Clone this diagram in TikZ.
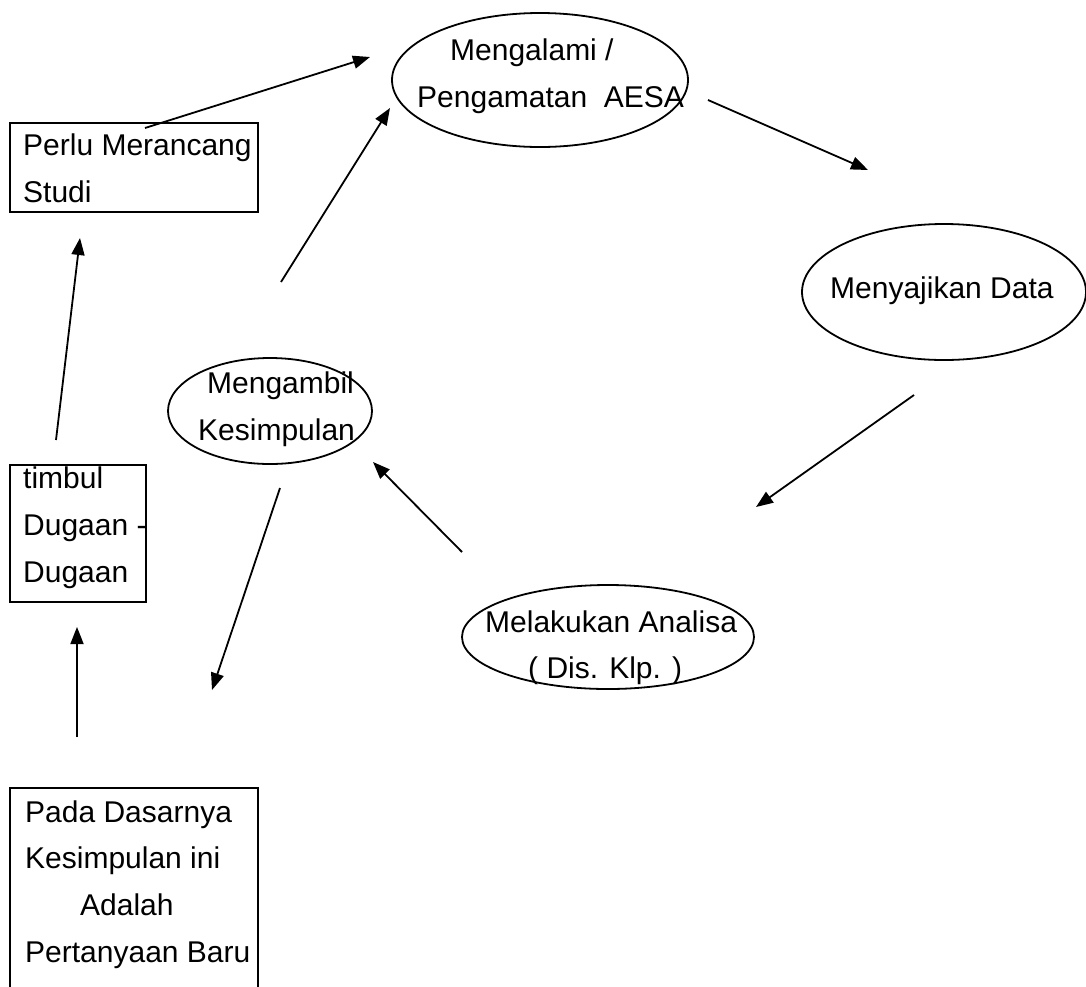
\documentclass[tikz,border=0pt]{standalone}
\usepackage{fontspec}
\setmainfont{Liberation Sans}
\usetikzlibrary{shapes.geometric,arrows.meta}
\begin{document}
\begin{tikzpicture}[x=1pt,y=-1pt,
  oval/.style={ellipse,draw,line width=1.8pt,inner sep=0pt},
  box/.style={rectangle,draw,line width=1.8pt,inner sep=0pt},
  txt/.style={anchor=base west,inner sep=0pt,font=\fontsize{30}{36}\selectfont},
  arr/.style={line width=1.8pt,-{Triangle[length=17pt,width=13pt]}}]
\useasboundingbox (0,0) rectangle (1086,986);
% shapes
\node[oval,minimum width=296pt,minimum height=134pt] (e1) at (540,80) {};
\node[oval,minimum width=284pt,minimum height=136pt] (e2) at (944,292) {};
\node[oval,minimum width=204pt,minimum height=106pt] (e3) at (270,411) {};
\node[oval,minimum width=292pt,minimum height=104pt] (e4) at (608,637) {};
\node[box,minimum width=248pt,minimum height=89pt] (b1) at (134,167.5) {};
\node[box,minimum width=136pt,minimum height=137pt] (b2) at (78,533.5) {};
\draw[line width=1.8pt] (10,990) |- (258,788) -- (258,990);
% texts
\node[txt] (t1a) at (450,60) {Mengalami /};
\node[txt] (t1b) at (417,107) {Pengamatan\ \ AESA};
\node[txt] (t2) at (830,298) {Menyajikan Data};
\node[txt] (t3a) at (207,393) {Mengambil};
\node[txt] (t3b) at (198,440) {Kesimpulan};
\node[txt] (t4a) at (485,632) {Melakukan Analisa};
\node[txt] (t4b) at (528,678) {( Dis. Klp. )};
\node[txt] (t5a) at (23,155) {Perlu Merancang};
\node[txt] (t5b) at (23,202) {Studi};
\node[txt] (t6a) at (23,488) {timbul};
\node[txt] (t6b) at (23,535) {Dugaan -};
\node[txt] (t6c) at (23,582) {Dugaan};
\node[txt] (t7a) at (25,822) {Pada Dasarnya};
\node[txt] (t7b) at (25,868) {Kesimpulan ini};
\node[txt] (t7c) at (80,915) {Adalah};
\node[txt] (t7d) at (25,962) {Pertanyaan Baru};
% connector ends
\coordinate (a1s) at (145,128); \coordinate (a1e) at (370,57);
\coordinate (a2s) at (281,282); \coordinate (a2e) at (390,108);
\coordinate (a3s) at (708,100); \coordinate (a3e) at (868,170);
\coordinate (a4s) at (914,395); \coordinate (a4e) at (756,507);
\coordinate (a5s) at (462,552); \coordinate (a5e) at (373,462);
\coordinate (a6s) at (280,488); \coordinate (a6e) at (212,690);
\coordinate (a7s) at (56,440);  \coordinate (a7e) at (80,238);
\coordinate (a8s) at (77,737);  \coordinate (a8e) at (77,627);
\draw[arr] (a1s) -- (a1e);
\draw[arr] (a2s) -- (a2e);
\draw[arr] (a3s) -- (a3e);
\draw[arr] (a4s) -- (a4e);
\draw[arr] (a5s) -- (a5e);
\draw[arr] (a6s) -- (a6e);
\draw[arr] (a7s) -- (a7e);
\draw[arr] (a8s) -- (a8e);
\end{tikzpicture}
\end{document}
